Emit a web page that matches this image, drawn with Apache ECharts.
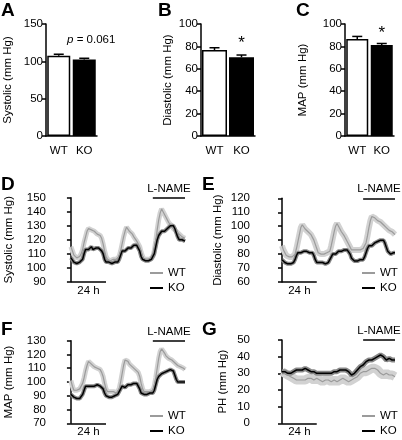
<!DOCTYPE html>
<html><head><meta charset="utf-8">
<script src="https://cdn.jsdelivr.net/npm/echarts@6/dist/echarts.min.js"></script>
<style>html,body{margin:0;padding:0;background:#fff}#c{width:402px;height:440px}</style>
</head><body><div id="c"></div>
<script>
// ---- bar panels (A-C) ----
const groups = ['WT', 'KO'];
const sysMean = [107.5, 102.5], sysSem = [2.0, 1.6];
const diaMean = [76.8, 70.3], diaSem = [2.0, 2.0];
const mapMean = [86.6, 81.2], mapSem = [2.3, 1.4];
const annA = ['', '{i|p} = 0.061'];
const annB = ['', '*'];
const annC = ['', '*'];
const ticksA = [0, 150, 50];
const ticksBC = [0, 100, 20];

// ---- time courses (D-G), hourly means, hours 0..78 ----
const hours = Array.from({length: 79}, (_, i) => i);
const dayBar = [0, 24];
const lnameBar = [56, 78];
const sysWT = [115,112,109,108,107,108,108,110,113,118,122,126,128,129,127,126,126,125,124,124,123,121,117,112,108,106,106,105,105,106,105,106,106,108,112,117,122,126,129,128,126,125,124,122,121,119,117,115,111,108,106,107,106,105,106,106,108,112,119,127,134,139,142,140,138,136,134,132,131,130,128,127,126,125,124,123,122,122,121];
const sysKO = [107,106,104,104,103,103,104,104,106,110,113,114,113,114,115,113,114,114,113,114,113,112,110,106,104,103,104,104,103,104,104,105,104,106,109,112,113,112,113,114,113,114,115,116,115,116,115,112,108,106,106,105,106,105,106,106,107,110,115,120,123,124,126,125,126,127,128,129,130,131,130,128,125,122,120,119,120,119,119];
const diaWT = [86,83,81,79,78,78,79,78,79,80,84,89,94,99,101,100,98,97,96,95,94,92,90,87,84,81,80,80,79,80,80,81,80,82,86,91,96,100,102,101,98,96,95,93,91,89,87,85,83,82,83,82,83,82,83,83,84,85,88,93,99,104,107,108,106,105,104,103,103,102,101,100,99,98,97,96,96,95,94];
const diaKO = [76,75,74,73,73,72,73,72,74,76,79,81,82,81,82,82,81,82,82,81,82,81,79,76,74,73,74,73,74,74,73,74,74,75,78,80,81,80,81,82,81,82,83,83,82,83,82,80,77,76,75,76,75,75,76,75,76,78,81,84,86,87,86,87,88,88,89,90,90,91,90,88,85,82,81,80,81,81,81];
const mapWT = [101,97,94,93,94,94,95,96,99,103,108,112,115,116,113,112,111,111,110,110,109,107,104,99,95,93,92,93,92,93,93,92,93,95,100,106,112,116,117,115,113,112,111,110,109,108,107,104,99,95,93,92,93,92,93,93,94,97,103,110,117,122,124,123,121,119,118,117,116,116,115,114,113,112,111,111,110,110,109];
const mapKO = [91,90,89,89,88,89,88,89,91,94,97,98,97,96,97,98,97,97,98,97,97,96,95,92,90,89,89,90,89,89,90,90,91,92,95,97,97,96,97,98,97,98,99,99,100,99,98,95,92,91,91,90,91,91,92,91,92,94,98,102,104,105,106,106,107,107,108,109,109,110,108,105,102,100,101,100,99,100,100];
const phWT = [31,30,30,29,29,28,28,27,27,26,26,26,26,27,26,26,26,27,27,26,27,27,26,27,27,26,26,26,25,26,26,25,26,26,25,25,26,25,25,26,26,26,27,27,26,26,25,26,26,26,27,28,28,29,30,31,31,31,31,32,32,33,33,32,33,33,32,31,30,30,29,29,30,29,29,28,29,28,28];
const phKO = [31,30,31,30,30,31,30,31,31,32,32,33,32,33,32,32,33,32,32,32,31,32,31,31,30,31,30,30,30,30,30,29,30,30,30,31,31,31,31,32,32,32,32,31,32,31,31,30,29,29,30,31,32,33,34,35,35,36,37,37,38,38,38,39,39,40,40,41,41,40,40,39,38,38,39,38,38,38,38];

const FONT = 'Liberation Sans, Arial, Helvetica, sans-serif';
const chart = echarts.init(document.getElementById('c'), null, {renderer: 'canvas'});

const grid = [], xAxis = [], yAxis = [], series = [], legend = [];

function yAx(gi, min, max, interval, name, nameGap, fs) {
  return {
    type: 'value', gridIndex: gi, min, max, interval,
    name, nameLocation: 'middle', nameRotate: 90, nameGap,
    nameTextStyle: {fontFamily: FONT, fontSize: fs, color: '#000'},
    axisLine: {show: true, lineStyle: {color: '#000', width: 1.5}},
    axisTick: {show: true, length: 4, lineStyle: {color: '#000', width: 1.5}},
    axisLabel: {fontFamily: FONT, fontSize: fs, color: '#000', margin: 3},
    splitLine: {show: false}
  };
}

function errRender(params, api) {
  const i = api.value(0), m = api.value(1), s = api.value(2);
  const p0 = api.coord([i, m]), p1 = api.coord([i, m + s]);
  const st = {stroke: '#000', lineWidth: 1.5};
  return {type: 'group', children: [
    {type: 'line', shape: {x1: p0[0], y1: p0[1], x2: p1[0], y2: p1[1]}, style: st},
    {type: 'line', shape: {x1: p1[0] - 5, y1: p1[1], x2: p1[0] + 5, y2: p1[1]}, style: st}
  ]};
}

function barPanel(gi, g, mean, sem, ticks, name, nameGap, ann, annStyle, barW) {
  grid.push(g);
  xAxis.push({
    type: 'category', gridIndex: gi, data: groups,
    axisLine: {show: true, lineStyle: {color: '#000', width: 1.5}},
    axisTick: {show: false},
    axisLabel: {fontFamily: FONT, fontSize: 11.5, color: '#000', margin: 9}
  });
  yAxis.push(yAx(gi, ticks[0], ticks[1], ticks[2], name, nameGap, 11.5));
  series.push({
    type: 'bar', xAxisIndex: gi, yAxisIndex: gi, barWidth: barW, data: mean,
    itemStyle: {color: p => p.dataIndex === 0 ? '#fff' : '#000', borderColor: '#000', borderWidth: 1.5},
    label: Object.assign({show: true, position: 'top', formatter: p => ann[p.dataIndex],
      fontFamily: FONT, color: '#000', rich: {i: {fontStyle: 'italic', fontFamily: FONT, fontSize: 11.5}}}, annStyle),
    z: 2
  });
  series.push({
    type: 'custom', xAxisIndex: gi, yAxisIndex: gi, renderItem: errRender,
    data: mean.map((m, i) => [i, m, sem[i]]), z: 3
  });
}

barPanel(0, {left: 46, top: 24, width: 51, height: 112}, sysMean, sysSem, ticksA, 'Systolic (mm Hg)', 32, annA, {distance: 14, offset: [7, 0], fontSize: 11.5}, 23);
barPanel(1, {left: 201, top: 24, width: 54, height: 112}, diaMean, diaSem, ticksBC, 'Diastolic (mm Hg)', 27, annB, {distance: 5, fontSize: 17}, 25);
barPanel(2, {left: 345, top: 24, width: 49, height: 112}, mapMean, mapSem, ticksBC, 'MAP (mm Hg)', 36, annC, {distance: 3, fontSize: 17}, 22);

function tsPanel(gi, g, xmin, wt, ko, ymin, ymax, name, nameGap, wtBandW, koBandW, leg) {
  grid.push(g);
  xAxis.push({type: 'value', gridIndex: gi, min: xmin, max: 78, show: false});
  yAxis.push(yAx(gi, ymin, ymax, 10, name, nameGap, 11.5));
  const pts = arr => hours.map((h, i) => [h, arr[i]]);
  series.push({type: 'line', name: 'WT sem', xAxisIndex: gi, yAxisIndex: gi, data: pts(wt), showSymbol: false,
    lineStyle: {color: '#d2d2d2', width: wtBandW}, z: 1});
  series.push({type: 'line', name: 'KO sem', xAxisIndex: gi, yAxisIndex: gi, data: pts(ko), showSymbol: false,
    lineStyle: {color: '#888888', width: koBandW}, z: 2});
  series.push({type: 'line', name: 'WT', xAxisIndex: gi, yAxisIndex: gi, data: pts(wt), showSymbol: false,
    color: '#9b9b9b', lineStyle: {color: '#9b9b9b', width: 1.2}, z: 3});
  series.push({type: 'line', name: 'KO', xAxisIndex: gi, yAxisIndex: gi, data: pts(ko), showSymbol: false,
    color: '#000', lineStyle: {color: '#000', width: 1.5}, z: 4, clip: false,
    markLine: {
      silent: true, symbol: 'none', animation: false,
      lineStyle: {color: '#000', width: 1.5, type: 'solid'},
      label: {fontFamily: FONT, fontSize: 11.5, color: '#000'},
      data: [
        [{coord: [dayBar[0], ymin], label: {formatter: '24 h', position: 'insideMiddleBottom', distance: 3}}, {coord: [dayBar[1], ymin]}],
        [{coord: [lnameBar[0], ymax], label: {formatter: 'L-NAME', position: 'insideMiddleTop', distance: 3}}, {coord: [lnameBar[1], ymax]}]
      ]
    }});
  legend.push({
    data: ['WT', 'KO'], orient: 'vertical', left: leg[0], top: leg[1], padding: 0, height: 34,
    icon: 'rect', itemWidth: 13, itemHeight: 2, itemGap: 1,
    textStyle: {fontFamily: FONT, fontSize: 11.5, color: '#000', lineHeight: 14}
  });
}

tsPanel(3, {left: 49, top: 197.7, width: 136, height: 84}, -15, sysWT, sysKO, 90, 150, 'Systolic (mm Hg)', 34, 5, 4, [150, 266]);
tsPanel(4, {left: 253, top: 198.3, width: 142, height: 83.7}, -20, diaWT, diaKO, 60, 120, 'Diastolic (mm Hg)', 29, 6, 4, [362, 266]);
tsPanel(5, {left: 49, top: 340.7, width: 136, height: 82.6}, -15, mapWT, mapKO, 70, 130, 'MAP (mm Hg)', 34, 5, 4, [150, 409]);
tsPanel(6, {left: 253, top: 340, width: 142, height: 83.3}, -20, phWT, phKO, 0, 50, 'PH (mm Hg)', 24, 9, 5, [362, 409]);

const letters = [['A', 1, 1], ['B', 158, 1], ['C', 296, 1], ['D', 1, 175], ['E', 202, 175], ['F', 1, 320], ['G', 202, 320]];
const title = letters.map(l => ({text: l[0], left: l[1], top: l[2], padding: 0,
  textStyle: {fontFamily: FONT, fontSize: 19, fontWeight: 'bold', color: '#000'}}));

chart.setOption({animation: false, backgroundColor: '#fff', title, grid, xAxis, yAxis, series, legend});
</script></body></html>
